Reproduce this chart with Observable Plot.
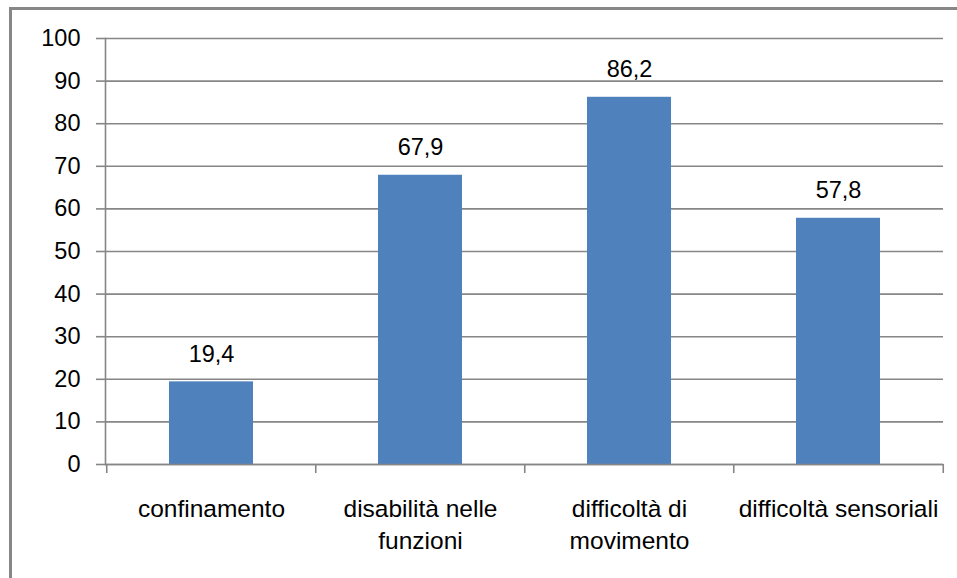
<!DOCTYPE html>
<html>
<head>
<meta charset="utf-8">
<script src="https://cdn.jsdelivr.net/npm/d3@7"></script>
<script src="https://cdn.jsdelivr.net/npm/@observablehq/plot@0.6"></script>
<style>
  html, body { margin: 0; padding: 0; background: #fff; }
  #wrap { position: relative; width: 957px; height: 578px; overflow: hidden; }
  #border { position: absolute; left: 9px; top: 7px; right: -10px; bottom: -10px;
            border-top: 3px solid #878787; border-left: 3px solid #878787; }
  #chart { position: absolute; left: 0; top: 0; }
</style>
</head>
<body>
<div id="wrap"><div id="border"></div><div id="chart"></div></div>
<script>
const categories = ["confinamento", "disabilità nelle funzioni", "difficoltà di movimento", "difficoltà sensoriali"];
const tickLabels = ["confinamento", "disabilità nelle\nfunzioni", "difficoltà di\nmovimento", "difficoltà sensoriali"];
const values = [19.4, 67.9, 86.2, 57.8];
const yTicks = [0, 10, 20, 30, 40, 50, 60, 70, 80, 90, 100];

const data = categories.map((c, i) => ({category: c, value: values[i]}));

const W = 957, H = 578;
const mL = 105, mR = 14, mT = 38, mB = 114;
const step = (W - mL - mR) / categories.length;
const gridColor = "#868686";
const font = "'Liberation Sans', Arial, sans-serif";

const chart = Plot.plot({
  width: W,
  height: H,
  marginLeft: mL,
  marginRight: mR,
  marginTop: mT,
  marginBottom: mB,
  style: {fontFamily: font, fontSize: "23px", color: "#000", background: "transparent"},
  x: {type: "band", domain: categories, paddingInner: 0.6, paddingOuter: 0.3, label: null},
  y: {domain: [0, 100], label: null},
  marks: [
    Plot.gridY(yTicks, {stroke: gridColor, strokeOpacity: 1, strokeWidth: 1.6}),
    Plot.barY(data, {x: "category", y: "value", fill: "#4F81BD"}),
    Plot.ruleY([0], {stroke: gridColor, strokeWidth: 1.6}),
    Plot.frame({anchor: "left", stroke: gridColor, strokeWidth: 1.6}),
    Plot.axisY(yTicks, {tickSize: 9, tickPadding: 16, stroke: gridColor, strokeWidth: 1.6,
      fill: "#000", fontSize: 23.5, tickFormat: d => String(d), label: null}),
    Plot.ruleX(categories, {x: d => d, dx: -step / 2, y1: 0, y2: 0, insetBottom: -9, stroke: gridColor, strokeWidth: 1.6}),
    Plot.ruleX([categories[categories.length - 1]], {x: d => d, dx: step / 2, y1: 0, y2: 0, insetBottom: -9, stroke: gridColor, strokeWidth: 1.6}),
    Plot.axisX({tickSize: 0, tickPadding: 30, fill: "#000", fontSize: 24.5, lineHeight: 1.3,
      tickFormat: d => tickLabels[categories.indexOf(d)], label: null}),
    Plot.text(data, {x: "category", y: "value", text: d => String(d.value).replace(".", ","),
      dy: -20, lineAnchor: "bottom", fill: "#000", fontSize: 23.5})
  ]
});
document.getElementById("chart").appendChild(chart);
</script>
</body>
</html>
